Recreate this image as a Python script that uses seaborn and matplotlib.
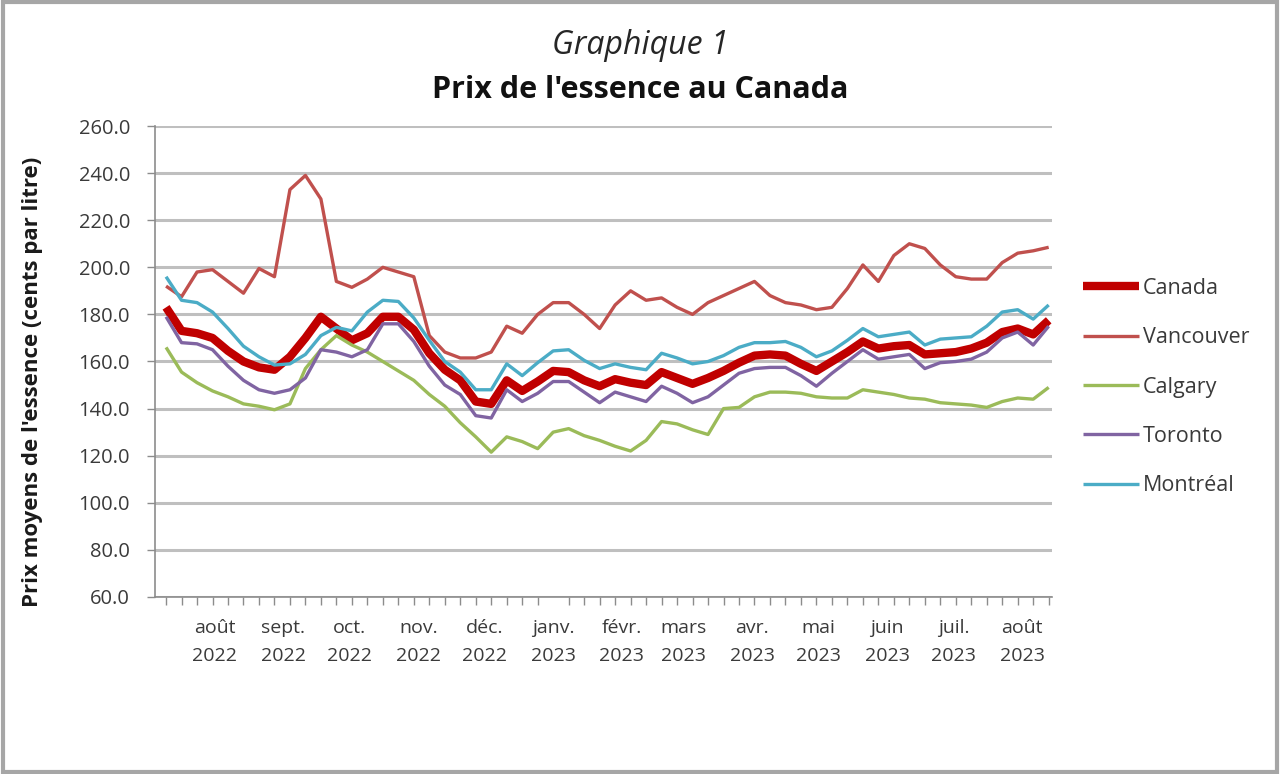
import pandas as pd
import matplotlib
matplotlib.use("Agg")
import matplotlib.pyplot as plt
from matplotlib.patches import Rectangle
import seaborn as sns

# Weekly gasoline prices (cents per litre)
weeks = pd.date_range("2022-07-25", periods=58, freq="7D")

canada = [183, 173, 172, 170, 164.5, 160, 157.5, 156.5, 162, 170, 179, 174, 169, 172, 179, 179,
          173.5, 163.5, 156.5, 152, 143, 142, 152, 147.5, 151.5, 156, 155.5, 152, 149.5, 152.5,
          151, 150, 155.5, 153, 150.5, 153, 156, 159.5, 162.5, 163, 162.5, 159, 156, 160, 164,
          168.5, 165.5, 166.5, 167, 163, 163.5, 164, 165.5, 168, 172.5, 174, 171.5, 177.5]
vancouver = [192, 187.5, 198, 199, 194, 189, 199.5, 196, 233, 239, 229, 194, 191.5, 195, 200, 198,
             196, 171, 164, 161.5, 161.5, 164, 175, 172, 180, 185, 185, 180, 174, 184,
             190, 186, 187, 183, 180, 185, 188, 191, 194, 188, 185, 184, 182, 183, 191,
             201, 194, 205, 210, 208, 201, 196, 195, 195, 202, 206, 207, 208.5]
calgary = [166, 155.5, 151, 147.5, 145, 142, 141, 139.5, 142, 157, 165, 171, 167, 164, 160, 156,
           152, 146, 141, 134, 128, 121.5, 128, 126, 123, 130, 131.5, 128.5, 126.5, 124,
           122, 126.5, 134.5, 133.5, 131, 129, 140, 140.5, 145, 147, 147, 146.5, 145, 144.5, 144.5,
           148, 147, 146, 144.5, 144, 142.5, 142, 141.5, 140.5, 143, 144.5, 144, 149]
toronto = [179, 168, 167.5, 165, 158, 152, 148, 146.5, 148, 153, 165, 164, 162, 165, 176, 176,
           168.5, 158, 150, 146, 137, 136, 148, 143, 146.5, 151.5, 151.5, 147, 142.5, 147,
           145, 143, 149.5, 146.5, 142.5, 145, 150, 155, 157, 157.5, 157.5, 154, 149.5, 155, 160,
           165, 161, 162, 163, 157, 159.5, 160, 161, 164, 170, 172.5, 167, 175]
montreal = [196, 186, 185, 181, 174, 166.5, 162, 158.5, 159, 163, 171, 174.5, 173, 181, 186, 185.5,
            178.5, 169, 160, 155.5, 148, 148, 159, 154, 159.5, 164.5, 165, 160.5, 157, 159,
            157.5, 156.5, 163.5, 161.5, 159, 160, 162.5, 166, 168, 168, 168.5, 166, 162, 164.5, 169,
            174, 170.5, 171.5, 172.5, 167, 169.5, 170, 170.5, 175, 181, 182, 178, 184]

series_names = ["Canada", "Vancouver", "Calgary", "Toronto", "Montréal"]
series_values = [canada, vancouver, calgary, toronto, montreal]
series_colors = ["#C00000", "#C0504D", "#9BBB59", "#8064A2", "#4BACC6"]
series_widths = [6.0, 2.4, 2.4, 2.4, 2.4]

month_labels = ["août\n2022", "sept.\n2022", "oct.\n2022", "nov.\n2022", "déc.\n2022",
                "janv.\n2023", "févr.\n2023", "mars\n2023", "avr.\n2023", "mai\n2023",
                "juin\n2023", "juil.\n2023", "août\n2023"]
month_ticks = pd.date_range("2022-08-01", periods=13, freq="MS") + pd.Timedelta(days=15)

sns.set_theme(style="white")
plt.rcParams["font.family"] = ["Open Sans", "DejaVu Sans"]

fig = plt.figure(figsize=(12.8, 7.74), dpi=100)
ax = fig.add_axes([155 / 1280, 1 - 597 / 774, (1052 - 155) / 1280, (597 - 126) / 774])

df = pd.DataFrame({"Semaine": weeks})
for name, vals in zip(series_names, series_values):
    df[name] = vals

for name, color, lw in zip(series_names, series_colors, series_widths):
    sns.lineplot(data=df, x="Semaine", y=name, color=color, linewidth=lw,
                 label=name, ax=ax, solid_capstyle="butt")

# axes styling (Excel-like)
ax.set_ylim(60, 260)
ax.set_yticks(range(60, 261, 20))
ax.set_yticklabels([f"{v:.1f}" for v in range(60, 261, 20)])
ax.set_xlim(weeks[0] - pd.Timedelta(days=5), weeks[-1] + pd.Timedelta(days=1.5))
ax.set_xticks(month_ticks)
ax.set_xticklabels(month_labels, linespacing=1.7)
ax.set_xticks(weeks, minor=True)
ax.set_xlabel("")
ax.set_ylabel("")

ax.grid(axis="y", color="#BFBFBF", linewidth=2.2)
ax.grid(axis="x", visible=False)
ax.set_axisbelow(True)
for s in ["top", "right"]:
    ax.spines[s].set_visible(False)
for s in ["left", "bottom"]:
    ax.spines[s].set_color("#8C8C8C")
    ax.spines[s].set_linewidth(1.2)

ax.tick_params(axis="y", which="major", length=6, width=1, color="#8C8C8C",
               direction="out", left=True, pad=12, labelsize=14.5, labelcolor="#3a3a3a")
ax.tick_params(axis="x", which="major", length=0, pad=16, labelsize=14, labelcolor="#3a3a3a")
ax.tick_params(axis="x", which="minor", length=6, width=1, color="#8C8C8C",
               direction="out", bottom=True)

fig.text(33 / 1280, 1 - 382 / 774, "Prix moyens de l'essence (cents par litre)",
         rotation=90, ha="center", va="center", fontsize=16, fontweight="bold", color="#1a1a1a")

fig.text(0.5, 1 - 45 / 774, "Graphique 1", ha="center", va="center",
         fontsize=23, fontstyle="italic", color="#262626")
fig.text(0.5, 1 - 90 / 774, "Prix de l'essence au Canada", ha="center", va="center",
         fontsize=22, fontweight="bold", color="#111111")

leg = ax.legend(loc="center left", bbox_to_anchor=(1064 / 1280, 1 - 387 / 774),
                bbox_transform=fig.transFigure, frameon=False, fontsize=15.5,
                handlelength=2.6, handletextpad=0.15, labelspacing=1.32)
for txt in leg.get_texts():
    txt.set_color("#3a3a3a")

# outer frame of the picture
fig.patches.append(Rectangle((0.002, 0.003), 0.996, 0.994, transform=fig.transFigure,
                             fill=False, edgecolor="#A6A6A6", linewidth=3))

fig.savefig("out.png", dpi=100, facecolor="white")
